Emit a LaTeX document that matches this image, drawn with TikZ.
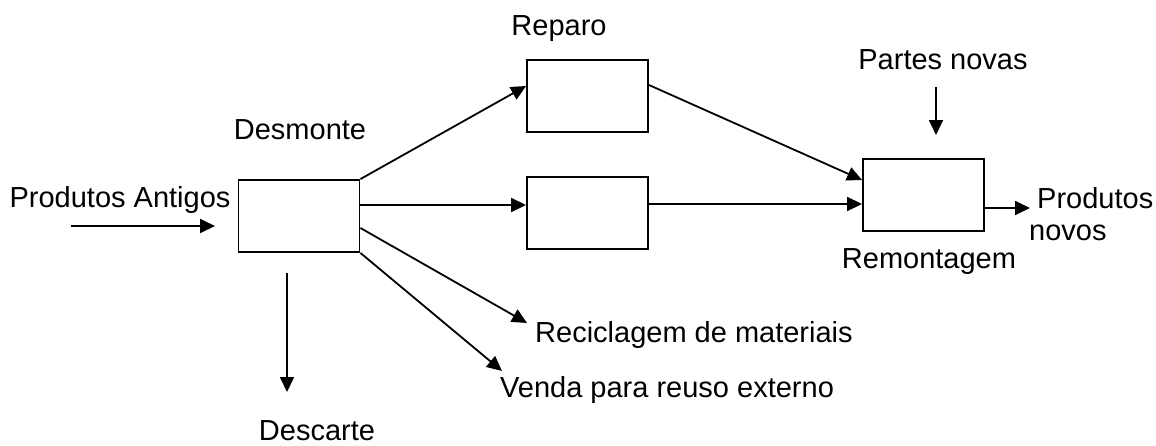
\documentclass[tikz,border=0pt]{standalone}
\usepackage{fontspec}
\setmainfont{Liberation Sans}
\usetikzlibrary{arrows.meta}
\begin{document}
\begin{tikzpicture}[x=1pt,y=-1pt,
  every node/.style={font=\fontsize{29}{34}\selectfont},
  procbox/.style={draw, line width=1.9pt, minimum width=121pt, minimum height=72pt, inner sep=0pt},
  lbl/.style={inner sep=0pt, anchor=base},
  flow/.style={line width=1.8pt, -{Triangle[length=15pt,width=14pt]}}]
\useasboundingbox (0,0) rectangle (1156,445);
% boxes
\node[procbox] (des) at (299,216) {};
\node[procbox] (rep) at (587.5,96) {};
\node[procbox] (mid) at (587.5,213) {};
\node[procbox] (rem) at (923.5,195) {};
% labels
\node[lbl] (tant) at (120,207) {Produtos Antigos};
\node[lbl] (tdes) at (300,139) {Desmonte};
\node[lbl] (trep) at (559,35) {Reparo};
\node[lbl] (tpar) at (943,69) {Partes novas};
\node[lbl, anchor=base west] (tpro) at (1037,208) {Produtos};
\node[lbl, anchor=base west] (tnov) at (1029,240) {novos};
\node[lbl] (trem) at (929,268) {Remontagem};
\node[lbl, anchor=base west] (trec) at (535,342) {Reciclagem de materiais};
\node[lbl, anchor=base west] (tven) at (500,397) {Venda para reuso externo};
\node[lbl] (tdesc) at (317,440) {Descarte};
% free-end coordinates
\coordinate (inA) at (71,226);
\coordinate (inB) at (215,226);
\coordinate (dcA) at (287,273);
\coordinate (dcB) at (287,392);
\coordinate (recT) at (527,323);
\coordinate (venT) at (502,371);
\coordinate (pnA) at (936,87);
\coordinate (pnB) at (936,135);
\coordinate (outT) at (1030,208);
% connectors
\draw[flow] (inA) -- (inB);
\draw[flow] (des.north east) -- ([yshift=10pt]rep.west);
\draw[flow] ([yshift=11pt]des.east) -- ([yshift=8pt]mid.west);
\draw[flow] ([yshift=-12pt]des.east) -- (recT);
\draw[flow] (des.south east) -- (venT);
\draw[flow] (dcA) -- (dcB);
\draw[flow] ([yshift=11pt]rep.east) -- ([yshift=15pt]rem.west);
\draw[flow] ([yshift=9pt]mid.east) -- ([yshift=-9pt]rem.west);
\draw[flow] ([yshift=-13pt]rem.east) -- (outT);
\draw[flow] (pnA) -- (pnB);
\end{tikzpicture}
\end{document}
